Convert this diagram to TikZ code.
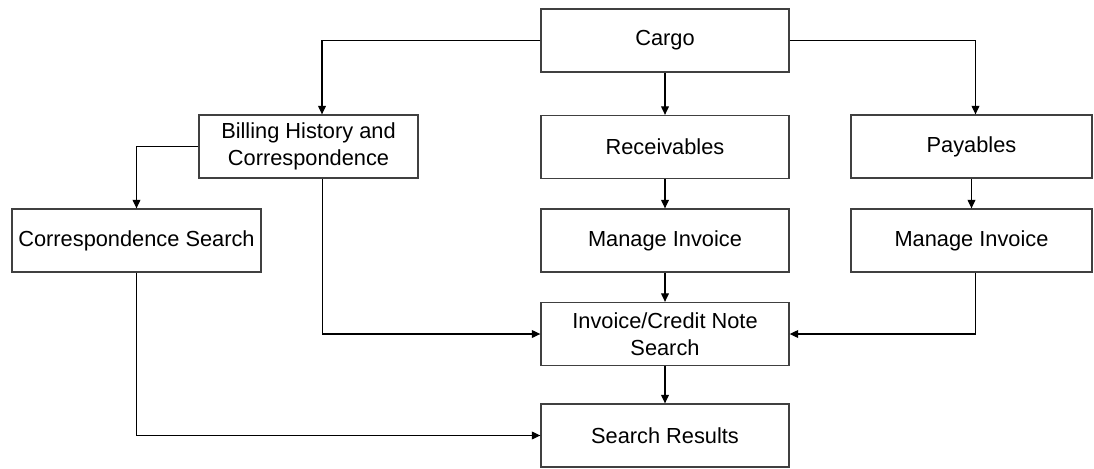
\documentclass[tikz,border=0pt]{standalone}
\usepackage{fontspec}
\setmainfont{Liberation Sans}
\usetikzlibrary{arrows.meta,positioning}

\begin{document}
\begin{tikzpicture}[x=0.025cm,y=-0.025cm,>={Triangle[length=6pt,width=5.5pt]},
  box/.style={draw=black!75,line width=0.9pt,minimum height=1.575cm,inner sep=0pt,align=center,font=\fontsize{15.5}{19}\selectfont},
  flow/.style={->,line width=0.8pt}]
\useasboundingbox (0,0) rectangle (1094,468);
\node[box,minimum width=6.2cm] (cargo) at (665,40.5) {Cargo};
\node[box,minimum width=5.475cm] (billing) at (308.5,146.5) {Billing History and\\Correspondence};
\node[box,minimum width=6.2cm] (recv) at (665,147) {Receivables};
\node[box,minimum width=6.025cm] (pay) at (971.5,146.5) {Payables};
\node[box,minimum width=6.225cm] (corr) at (136.5,240.5) {Correspondence Search};
\node[box,minimum width=6.2cm] (minv) at (665,240.5) {Manage Invoice};
\node[box,minimum width=6.025cm] (pminv) at (971.5,240.5) {Manage Invoice};
\node[box,minimum width=6.2cm] (search) at (665,334) {Invoice/Credit Note\\Search};
\node[box,minimum width=6.2cm] (results) at (665,435.5) {Search Results};
\draw[flow] (cargo.west) -| ([xshift=0.3375cm]billing.north);
\draw[flow] (cargo) -- (recv);
\draw[flow] (cargo.east) -| ([xshift=0.1cm]pay.north);
\draw[flow] (billing.west) -| (corr.north);
\draw[flow] ([xshift=0.35cm]billing.south) |- (search.west);
\draw[flow] (recv) -- (minv);
\draw[flow] (pay) -- (pminv);
\draw[flow] (minv) -- (search);
\draw[flow] ([xshift=0.1cm]pminv.south) |- (search.east);
\draw[flow] (corr.south) |- (results.west);
\draw[flow] (search) -- (results);
\end{tikzpicture}
\end{document}
